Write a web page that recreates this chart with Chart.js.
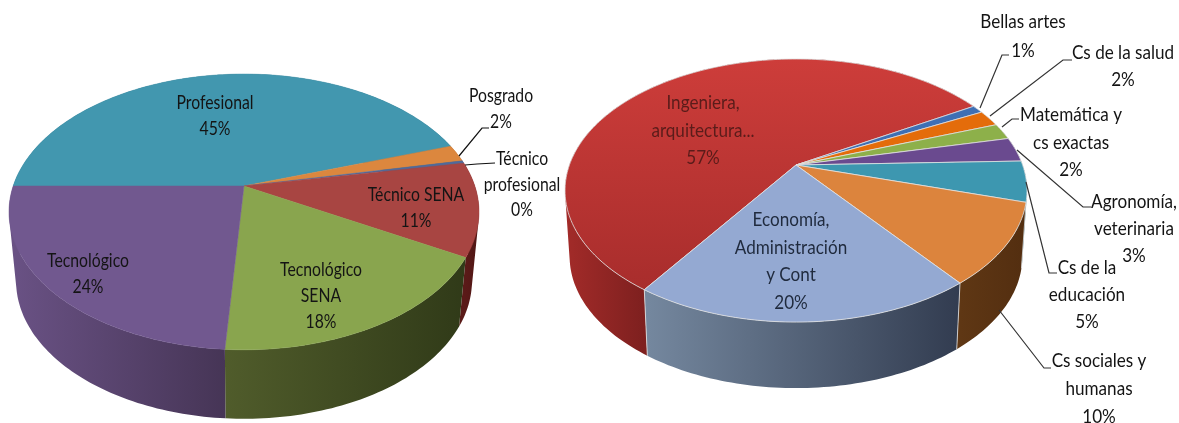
<!DOCTYPE html>
<html>
<head>
<meta charset="utf-8">
<script src="https://cdn.jsdelivr.net/npm/chart.js@4/dist/chart.umd.min.js"></script>
<style>
  html, body { margin: 0; padding: 0; background: #fff; }
  canvas { position: absolute; top: 0; }
  #leftPie { left: 0; }
  #rightPie { left: 550px; }
</style>
</head>
<body>
<canvas id="leftPie" width="570" height="423"></canvas>
<canvas id="rightPie" width="629" height="423"></canvas>
<script>
// Left chart data
const leftCategories = ['Profesional', 'Posgrado', 'Técnico profesional', 'Técnico SENA', 'Tecnológico SENA', 'Tecnológico'];
const leftValues = [45, 2, 0.3, 11, 18, 24];
const leftLabelLines = [['Profesional'], ['Posgrado'], ['Técnico', 'profesional'], ['Técnico SENA'], ['Tecnológico', 'SENA'], ['Tecnológico']];

// Right chart data
const rightCategories = ['Ingeniera, arquitectura...', 'Bellas artes', 'Cs de la salud', 'Matemática y cs exactas', 'Agronomía, veterinaria', 'Cs de la educación', 'Cs sociales y humanas', 'Economía, Administración y Cont'];
const rightValues = [57, 1, 2, 2, 3, 5, 10, 20];
const rightLabelLines = [['Ingeniera,', 'arquitectura...'], ['Bellas artes'], ['Cs de la salud'], ['Matemática y', 'cs exactas'], ['Agronomía,', 'veterinaria'], ['Cs de la', 'educación'], ['Cs sociales y', 'humanas'], ['Economía,', 'Administración', 'y Cont']];

// Colours
const leftColors = ['#4297af', '#dc873e', '#4f6a9b', '#a84542', '#89a54e', '#71588f'];
const rightColors = ['#c13634', '#3e6fb4', '#e46c0a', '#8db04a', '#6a4a8f', '#3d97b0', '#dc843d', '#94a9d2'];
const leftSides = [['#2d6a7c', '#2d6a7c'], ['#9c5f2a', '#9c5f2a'], ['#37496c', '#37496c'], ['#5a1a18', '#4f1614'], ['#505c2b', '#303a18'], ['#6a5285', '#463556']];
const rightSides = [['#a32b29', '#7e201f'], ['#2a4c7c', '#2a4c7c'], ['#9c4a07', '#9c4a07'], ['#5f7731', '#5f7731'], ['#483263', '#483263'], ['#296678', '#296678'], ['#5f3714', '#532e10'], ['#75889f', '#323c50']];

// Label layout, page coordinates: [centre x, y of first line, line step]
const leftLabelPos = [[215, 103, 26], [501, 96, 26], [522, 159, 25.5], [416, 195, 26], [321, 270, 26], [88, 261, 26]];
const rightLabelPos = [[703, 103, 27.5], [1023, 22, 29], [1123, 53, 27], [1071, 115, 27.5], [1134, 202, 27], [1087, 268, 27], [1099, 361, 28], [791, 220, 27.5]];

// Leader lines, page coordinates
const leftLeaders = [
  [[459, 156], [482, 128], [489, 128]],
  [[465, 165], [477, 164], [495, 163]]
];
const rightLeaders = [
  [[980, 108], [1002, 55], [1009, 55]],
  [[990, 116], [1063, 60], [1072, 60]],
  [[1002, 127], [1012, 119], [1019, 119]],
  [[1017, 150], [1083, 207], [1091, 207]],
  [[1026, 182], [1049, 273], [1057, 273]],
  [[999, 310], [1044, 368], [1051, 368]]
];

// Tilted disc: a circle point goes through a small perspective, so the apex sits above the ellipse centre
function projectPoint(g, angle, lower) {
  const u = Math.cos(angle);
  const v = Math.sin(angle);
  const w = 1 - g.k * v;
  const a = lower ? g.A * g.lowerScale : g.A;
  const cy = lower ? g.cy + g.depth : g.cy;
  return [g.cx + a * u / w, cy + g.B * v / w];
}

function arcPoints(g, start, end, lower) {
  const steps = Math.max(2, Math.ceil((end - start) / 0.02));
  const pts = [];
  for (let i = 0; i <= steps; i++) {
    pts.push(projectPoint(g, start + (end - start) * i / steps, lower));
  }
  return pts;
}

function tracePoints(ctx, pts, first) {
  pts.forEach((p, i) => {
    if (i === 0 && first) ctx.moveTo(p[0], p[1]);
    else ctx.lineTo(p[0], p[1]);
  });
}

function signedArea(quad) {
  let sum = 0;
  quad.forEach((p, i) => {
    const q = quad[(i + 1) % quad.length];
    sum += p[0] * q[1] - q[0] * p[1];
  });
  return sum;
}

function makePie3d(cfg) {
  const g = cfg.geometry;
  return {
    id: 'pie3d',
    beforeDatasetsDraw(chart) {
      const ctx = chart.ctx;
      const arcs = chart.getDatasetMeta(0).data;
      ctx.save();
      ctx.translate(-cfg.originX, 0);

      // sides first, the top face covers the hidden part
      arcs.forEach((arc, i) => {
        const top = arcPoints(g, arc.startAngle, arc.endAngle, false);
        const low = arcPoints(g, arc.startAngle, arc.endAngle, true);
        const xs = top.filter((p, n) => Math.sin(arc.startAngle + (arc.endAngle - arc.startAngle) * n / (top.length - 1)) > -0.1).map(p => p[0]);
        const x0 = xs.length ? Math.min(...xs) : g.cx - g.A;
        const x1 = xs.length ? Math.max(...xs) : g.cx + g.A;
        const grad = ctx.createLinearGradient(x0, 0, Math.max(x1, x0 + 1), 0);
        grad.addColorStop(0, cfg.sides[i][0]);
        grad.addColorStop(1, cfg.sides[i][1]);
        // one path of same-way-round quads, the two rims cross at the silhouette
        ctx.beginPath();
        for (let n = 0; n < top.length - 1; n++) {
          const quad = [top[n], top[n + 1], low[n + 1], low[n]];
          if (signedArea(quad) < 0) quad.reverse();
          tracePoints(ctx, quad, true);
          ctx.closePath();
        }
        ctx.fillStyle = grad;
        ctx.fill();
      });

      // side seams on charts with a border
      if (cfg.border) {
        ctx.strokeStyle = cfg.border;
        ctx.lineWidth = 0.8;
        arcs.forEach(arc => {
          if (Math.sin(arc.startAngle) < 0) return;
          const p = projectPoint(g, arc.startAngle, false);
          const q = projectPoint(g, arc.startAngle, true);
          ctx.beginPath();
          ctx.moveTo(p[0], p[1]);
          ctx.lineTo(q[0], q[1]);
          ctx.stroke();
        });
      }

      // top faces
      arcs.forEach((arc, i) => {
        ctx.beginPath();
        ctx.moveTo(g.cx, g.cy);
        tracePoints(ctx, arcPoints(g, arc.startAngle, arc.endAngle, false), false);
        ctx.closePath();
        let fill = arc.options.backgroundColor;
        if (cfg.faceGradient && cfg.faceGradient[i]) {
          const fg = ctx.createLinearGradient(0, g.cy - 105, 0, g.cy + 125);
          fg.addColorStop(0, cfg.faceGradient[i][0]);
          fg.addColorStop(1, cfg.faceGradient[i][1]);
          fill = fg;
        }
        ctx.fillStyle = fill;
        ctx.fill();
        ctx.strokeStyle = cfg.border || fill;
        ctx.lineWidth = cfg.border ? 0.8 : 0.5;
        ctx.stroke();
      });

      // leader lines
      ctx.strokeStyle = cfg.leaderColor;
      ctx.lineWidth = 1.2;
      cfg.leaders.forEach(line => {
        ctx.beginPath();
        tracePoints(ctx, line, true);
        ctx.stroke();
      });

      // labels: wrapped category name and percentage, squeezed to the narrower look of the original font
      ctx.font = cfg.font;
      ctx.textAlign = 'center';
      ctx.textBaseline = 'middle';
      cfg.values.forEach((val, i) => {
        const pos = cfg.labelPos[i];
        const lines = cfg.lines[i].concat(Math.round(val) + '%');
        ctx.fillStyle = (cfg.textColors && cfg.textColors[i]) || '#141414';
        lines.forEach((txt, n) => {
          ctx.save();
          ctx.translate(pos[0], pos[1] + n * pos[2]);
          ctx.scale(cfg.textScaleX, 1);
          ctx.fillText(txt, 0, 0);
          ctx.restore();
        });
      });

      ctx.restore();
      return false;
    }
  };
}

function buildChart(id, categories, values, colors, rotation, cfg) {
  new Chart(document.getElementById(id).getContext('2d'), {
    type: 'pie',
    data: {
      labels: categories,
      datasets: [{ data: values, backgroundColor: colors, borderWidth: 0 }]
    },
    options: {
      responsive: false,
      animation: false,
      rotation: rotation,
      plugins: { legend: { display: false }, tooltip: { enabled: false } }
    },
    plugins: [makePie3d(cfg)]
  });
}

buildChart('leftPie', leftCategories, leftValues, leftColors, 270, {
  originX: 0,
  geometry: { cx: 244, cy: 186, A: 230.8, B: 133, k: 0.188, depth: 69, lowerScale: 0.97 },
  sides: leftSides,
  values: leftValues,
  lines: leftLabelLines,
  labelPos: leftLabelPos,
  leaders: leftLeaders,
  leaderColor: '#111',
  font: '19px Lato',
  textScaleX: 0.83
});

buildChart('rightPie', rightCategories, rightValues, rightColors, 214.2, {
  originX: 550,
  geometry: { cx: 796, cy: 165, A: 226.6, B: 126.6, k: 0.194, depth: 66, lowerScale: 0.98 },
  sides: rightSides,
  values: rightValues,
  lines: rightLabelLines,
  labelPos: rightLabelPos,
  leaders: rightLeaders,
  leaderColor: '#333',
  border: '#e2e2e2',
  faceGradient: { 0: ['#cd3d3a', '#a82d2c'] },
  textColors: { 0: '#5a1c1a', 7: '#1f2a3d' },
  font: '19px Lato',
  textScaleX: 0.9
});
</script>
</body>
</html>
